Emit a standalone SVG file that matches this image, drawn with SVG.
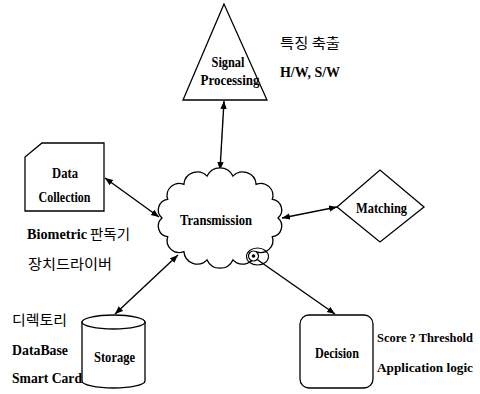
<svg xmlns="http://www.w3.org/2000/svg" width="480" height="394" viewBox="0 0 480 394">
<defs>
<marker id="ah" viewBox="0 0 10 10" refX="10" refY="5" markerWidth="8" markerHeight="8" markerUnits="userSpaceOnUse" orient="auto-start-reverse">
<path d="M0,1 L10,5 L0,9 Z" fill="#000"/>
</marker>
<style>
.s{fill:#fff;stroke:#000;stroke-width:1.3}
.c{fill:none;stroke:#000;stroke-width:1.4}
.t{font-family:"Liberation Serif","Times New Roman",serif;font-weight:bold;font-size:15px;fill:#000}
.r{font-size:13px}
.k{font-family:"Noto Sans CJK KR","Noto Sans",sans-serif;font-size:14px;fill:#000}
.m{text-anchor:middle}
</style>
</defs>
<rect width="480" height="394" fill="#fff"/>
<g id="connectors">
<line class="c" x1="224" y1="101" x2="220" y2="170" marker-start="url(#ah)" marker-end="url(#ah)"/>
<line class="c" x1="105" y1="178" x2="159" y2="217" marker-start="url(#ah)" marker-end="url(#ah)"/>
<line class="c" x1="282" y1="218" x2="337" y2="207" marker-start="url(#ah)" marker-end="url(#ah)"/>
<line class="c" x1="178" y1="255" x2="115" y2="314" marker-start="url(#ah)" marker-end="url(#ah)"/>
<line class="c" x1="255" y1="258" x2="335" y2="314" marker-end="url(#ah)"/>
</g>
<g id="signal-processing">
<polygon class="s" points="224,4 183,100 267,100"/>
<text class="t m" x="228" y="67" textLength="33" lengthAdjust="spacingAndGlyphs">Signal</text>
<text class="t m" x="230" y="85" textLength="59" lengthAdjust="spacingAndGlyphs">Processing</text>
</g>
<text class="k" x="280" y="48" textLength="60" lengthAdjust="spacingAndGlyphs">특징 축출</text>
<text class="t" x="280" y="77" textLength="60" lengthAdjust="spacingAndGlyphs">H/W, S/W</text>
<g id="data-collection">
<path class="s" d="M42,143 L104,143 L104,211 L25,211 L25,157 Z"/>
<text class="t m" x="65" y="178" textLength="26" lengthAdjust="spacingAndGlyphs">Data</text>
<text class="t m" x="64.5" y="202" textLength="52" lengthAdjust="spacingAndGlyphs">Collection</text>
</g>
<text class="t" x="27" y="239" textLength="60" lengthAdjust="spacingAndGlyphs">Biometric</text>
<text class="k" x="90" y="239" textLength="40" lengthAdjust="spacingAndGlyphs">판독기</text>
<text class="k" x="28" y="269" textLength="84" lengthAdjust="spacingAndGlyphs">장치드라이버</text>
<g id="transmission">
<path class="s" d="M278,218 A10.7,10.7 0 0 1 272.3,236.7 A12.1,12.1 0 0 1 256.1,251.6 A13.5,13.5 0 0 1 232.9,259.9 A14.2,14.2 0 0 1 207.1,259.9 A13.5,13.5 0 0 1 183.9,251.6 A12.1,12.1 0 0 1 167.7,236.7 A10.7,10.7 0 0 1 162,218 A10.7,10.7 0 0 1 167.7,199.3 A12.1,12.1 0 0 1 183.9,184.4 A13.5,13.5 0 0 1 207.1,176.1 A14.2,14.2 0 0 1 232.9,176.1 A13.5,13.5 0 0 1 256.1,184.4 A12.1,12.1 0 0 1 272.3,199.3 A10.7,10.7 0 0 1 278,218 Z"/>
<text class="t m" x="216" y="225" textLength="72" lengthAdjust="spacingAndGlyphs">Transmission</text>
<ellipse cx="257.5" cy="256.5" rx="11" ry="8.5" fill="none" stroke="#000" stroke-width="1.1"/>
<circle cx="253.5" cy="256" r="5" fill="#fff" stroke="#000" stroke-width="1.2"/>
<circle cx="253.5" cy="256" r="1.8" fill="#000"/>
</g>
<g id="matching">
<polygon class="s" points="337,207 380,170 424,207 380,242"/>
<text class="t m" x="381.5" y="213" textLength="51" lengthAdjust="spacingAndGlyphs">Matching</text>
</g>
<g id="storage">
<path class="s" d="M82,322 L82,381 A31.5,7 0 0 0 145,381 L145,322 Z"/>
<ellipse class="s" cx="113.5" cy="322" rx="31.5" ry="7"/>
<text class="t m" x="114.5" y="362" textLength="41" lengthAdjust="spacingAndGlyphs">Storage</text>
</g>
<text class="k" x="12" y="325" textLength="55" lengthAdjust="spacingAndGlyphs">디렉토리</text>
<text class="t" x="12" y="355" textLength="56" lengthAdjust="spacingAndGlyphs">DataBase</text>
<text class="t" x="12" y="383" textLength="70" lengthAdjust="spacingAndGlyphs">Smart Card</text>
<g id="decision">
<rect class="s" x="300" y="315" width="73" height="73" rx="9"/>
<text class="t m" x="337" y="358" textLength="44" lengthAdjust="spacingAndGlyphs">Decision</text>
</g>
<text class="t r" x="377" y="342" textLength="96" lengthAdjust="spacingAndGlyphs">Score ? Threshold</text>
<text class="t r" x="377" y="372" textLength="96" lengthAdjust="spacingAndGlyphs">Application logic</text>
</svg>
